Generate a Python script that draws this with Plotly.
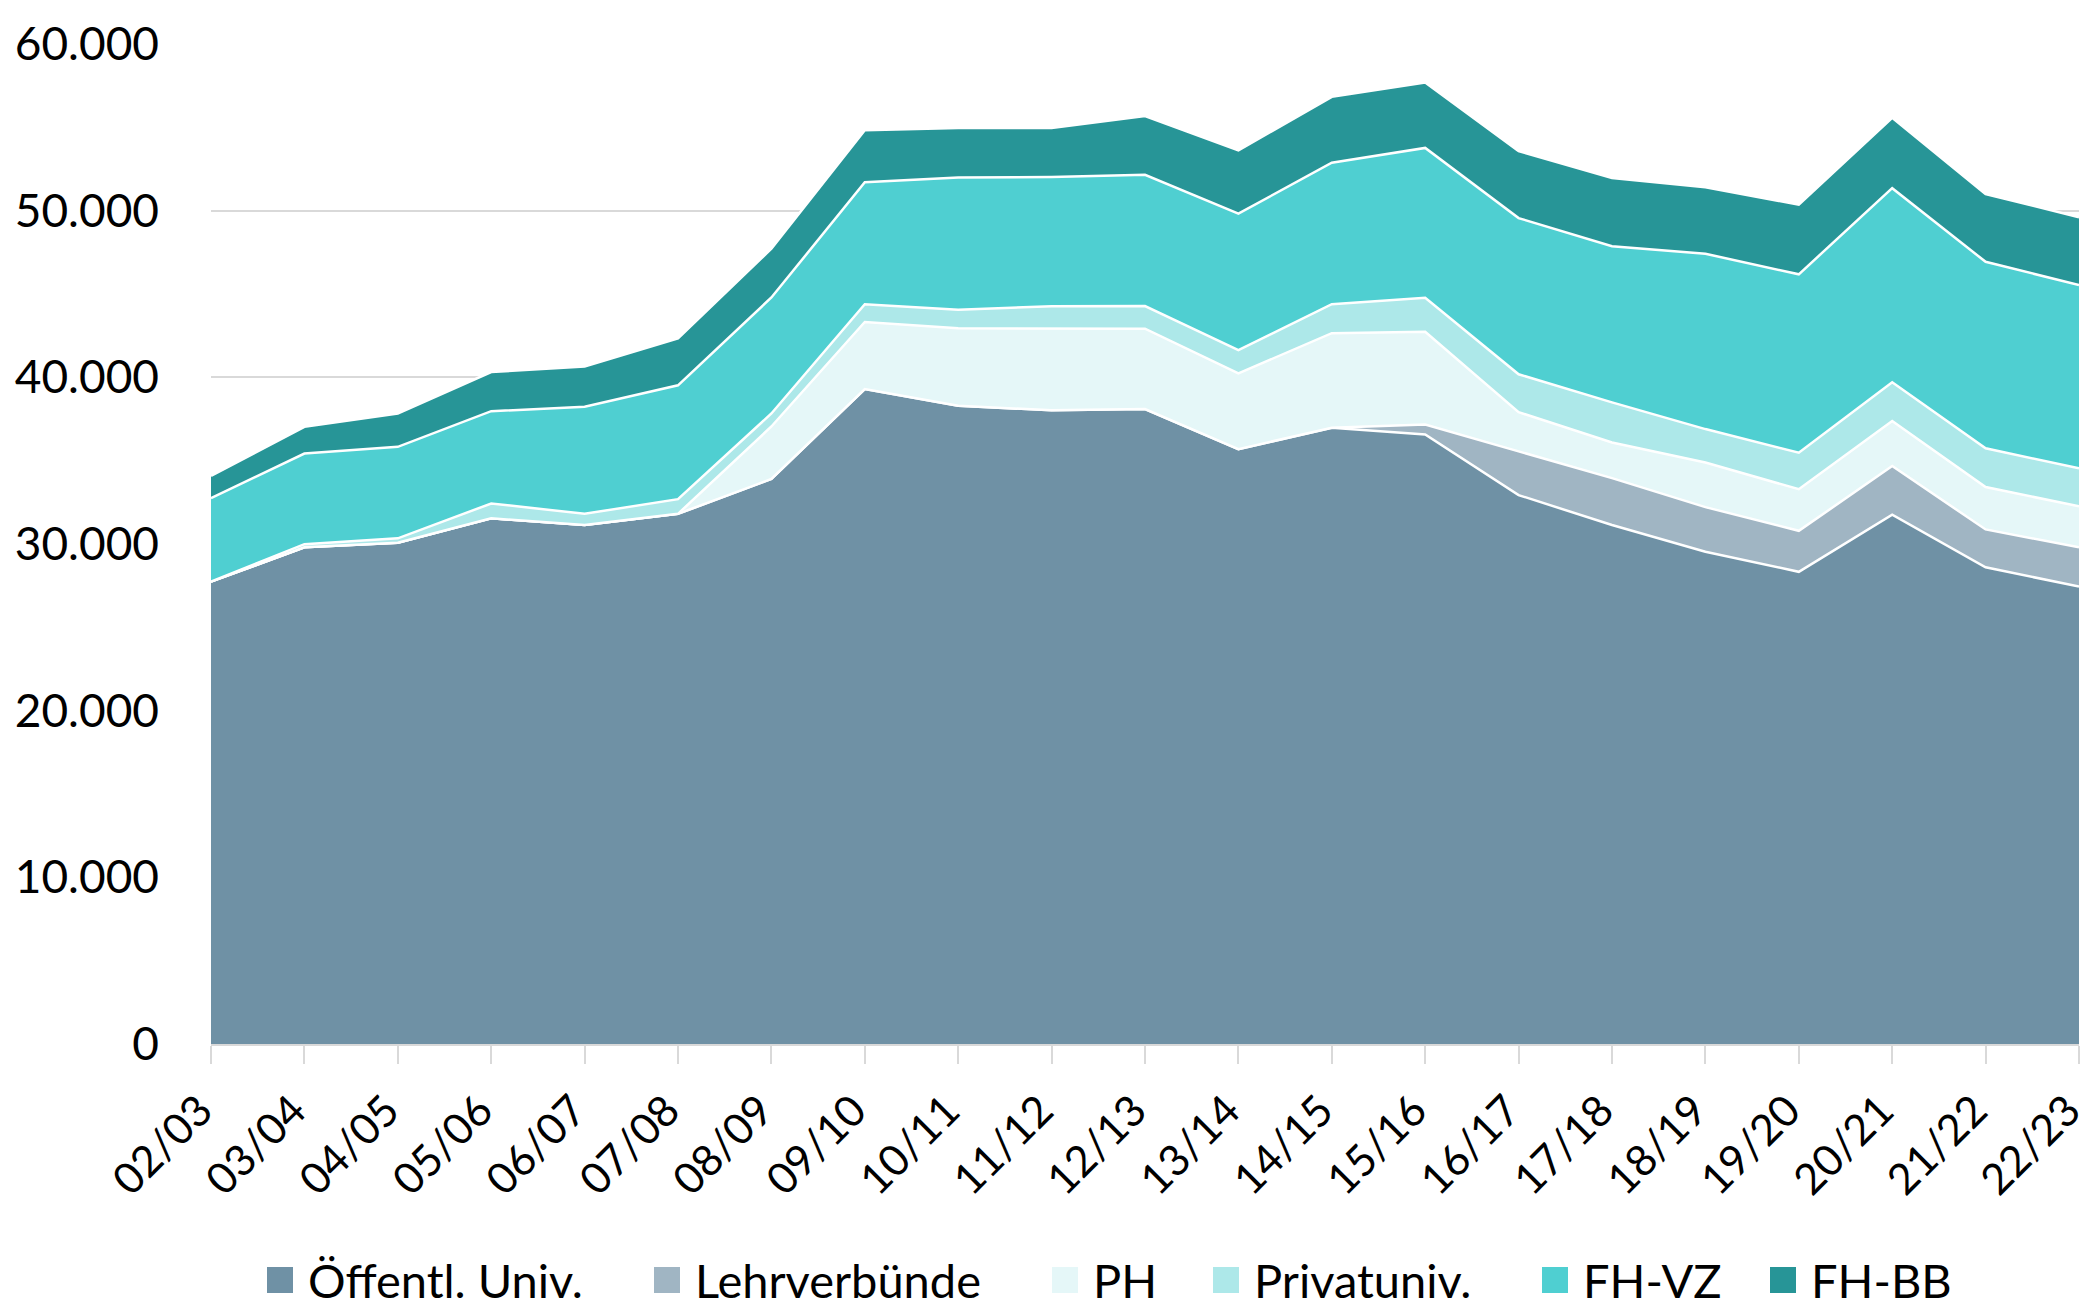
import plotly.graph_objects as go

years = ["02/03", "03/04", "04/05", "05/06", "06/07", "07/08", "08/09", "09/10", "10/11",
         "11/12", "12/13", "13/14", "14/15", "15/16", "16/17", "17/18", "18/19", "19/20",
         "20/21", "21/22", "22/23"]

oeff_univ = [27740, 29800, 30070, 31540, 31140, 31810, 33900, 39300, 38290, 38020, 38100,
             35690, 36980, 36575, 32935, 31140, 29540, 28330, 31755, 28600, 27445]
lehrverbuende = [0, 0, 0, 0, 0, 0, 0, 0, 0, 0, 0, 0, 0, 590, 2625, 2810, 2670, 2460, 2920,
                 2275, 2355]
ph = [0, 0, 0, 0, 0, 0, 3150, 4020, 4650, 4900, 4820, 4550, 5670, 5570, 2350, 2140, 2680,
      2495, 2705, 2540, 2465]
privatuniv = [0, 190, 270, 890, 670, 880, 780, 1070, 1120, 1340, 1360, 1390, 1740, 2035,
              2275, 2410, 2005, 2195, 2325, 2325, 2275]
fh_vz = [5010, 5440, 5490, 5540, 6420, 6830, 6960, 7310, 7930, 7760, 7870, 8190, 8490, 8995,
         9370, 9370, 10520, 10700, 11645, 11190, 11000]
fh_bb = [1340, 1600, 2000, 2350, 2420, 2810, 2930, 3130, 2965, 2940, 3530, 3800, 3950, 3930,
         4015, 4095, 3985, 4180, 4225, 4070, 4070]

series_names = ["Öffentl. Univ.", "Lehrverbünde", "PH", "Privatuniv.", "FH-VZ", "FH-BB"]
series_values = [oeff_univ, lehrverbuende, ph, privatuniv, fh_vz, fh_bb]
series_colors = ["#6F91A5", "#A0B5C3", "#E5F7F8", "#ADE8E9", "#4FCFD1", "#279597"]

FONT = "Lato"
FS = 46

# figure geometry (pixels)
W, H = 2090, 1312
L, R, T, B = 211, 11, 44, 268
PW, PH_ = W - L - R, H - T - B

fig = go.Figure()
for name, vals, col in zip(series_names, series_values, series_colors):
    fig.add_trace(go.Scatter(
        x=years, y=vals, name=name, stackgroup="one", mode="lines",
        line=dict(color="white", width=2.5), fillcolor=col, showlegend=False,
        hoverinfo="x+y+name",
    ))

# legend drawn below the plot (square swatches + labels)
legend_swatch_px = [267, 654, 1052, 1213, 1542, 1770]
legend_y_px = 1280
sw = 26
for name, col, xpx in zip(series_names, series_colors, legend_swatch_px):
    x0 = (xpx - L) / PW
    x1 = (xpx + sw - L) / PW
    y0 = (T + PH_ - (legend_y_px + sw / 2)) / PH_
    y1 = (T + PH_ - (legend_y_px - sw / 2)) / PH_
    fig.add_shape(type="rect", xref="paper", yref="paper", x0=x0, x1=x1, y0=y0, y1=y1,
                  fillcolor=col, line=dict(width=0))
    fig.add_annotation(xref="paper", yref="paper", x=(xpx + sw + 14 - L) / PW,
                       y=(T + PH_ - legend_y_px) / PH_, xanchor="left", yanchor="middle",
                       text=name, showarrow=False, borderpad=0,
                       font=dict(family=FONT, size=47, color="black"))

fig.update_layout(
    width=W, height=H,
    margin=dict(l=L, r=R, t=T, b=B),
    paper_bgcolor="white", plot_bgcolor="white",
    separators=",.",
    font=dict(family=FONT, size=FS, color="black"),
    showlegend=False,
    xaxis=dict(
        type="category", range=[0, 20], tickangle=-45, automargin=False,
        showgrid=False, showline=True, linecolor="#D9D9D9", linewidth=2,
        ticks="outside", ticklen=18, tickwidth=2, tickcolor="#D9D9D9",
        ticklabelshift=-11, ticklabelstandoff=4,
        tickfont=dict(family=FONT, size=43, color="black"),
        zeroline=False,
    ),
    yaxis=dict(
        range=[0, 60000], tickvals=[0, 10000, 20000, 30000, 40000, 50000, 60000],
        tickformat=",d", showgrid=True, gridcolor="#D9D9D9", gridwidth=2,
        showline=False, zeroline=False, ticks="", ticklabelstandoff=51, automargin=False,
        tickfont=dict(family=FONT, size=FS, color="black"),
    ),
)

fig.write_html(
    "out.html",
    config={"displayModeBar": False},
    post_script="document.body.style.margin='0px';document.body.style.overflow='hidden';",
)
